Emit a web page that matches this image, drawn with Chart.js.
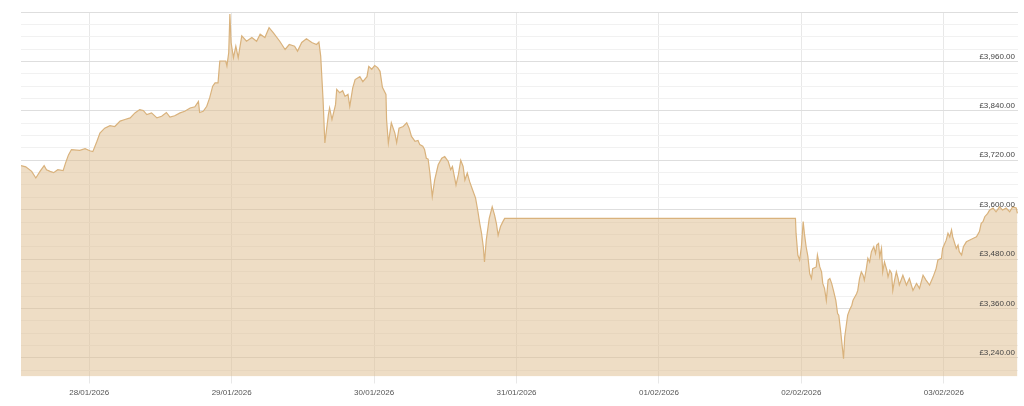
<!DOCTYPE html>
<html>
<head>
<meta charset="utf-8">
<script src="https://cdn.jsdelivr.net/npm/chart.js@4.4.1/dist/chart.umd.min.js"></script>
<style>
  body { margin: 0; background: #fff; }
  #wrap { width: 1024px; height: 406px; }
</style>
</head>
<body>
<div id="wrap"><canvas id="priceChart"></canvas></div>
<script>
// Hours since 28/01/2026 00:00, and price in GBP
const hours = [
  -11.5, -10.7, -9.7, -9.0, -8.3, -7.6, -7.2, -6.6, -6.0, -5.3, -4.4, -4.0, -3.5, -3.0, -1.6, -0.7,
  0.1, 0.6, 1.3, 1.8, 2.6, 3.5, 4.3, 5.2, 6.0, 6.9, 7.7, 8.5, 9.1, 9.7, 10.5, 11.4, 12.2, 13.0, 13.6,
  14.4, 15.3, 16.1, 17.0, 17.8, 18.4, 18.6, 19.2, 19.8, 20.3, 20.8, 21.2, 21.7, 22.0, 23.0, 23.2, 23.5,
  23.7, 23.9, 24.3, 24.7, 25.1, 25.7, 26.5, 27.4, 28.2, 28.8, 29.6, 30.3, 31.0, 32.1, 33.0, 33.7, 34.6,
  35.1, 35.8, 36.6, 37.5, 38.3, 38.7, 39.0, 39.4, 39.7, 40.3, 40.5, 40.9, 41.5, 41.7, 42.2, 42.7, 43.1,
  43.6, 43.9, 44.4, 44.8, 45.6, 46.1, 46.8, 47.1, 47.6, 48.1, 48.6, 49.0, 49.4, 50.0, 50.1, 50.4,
  50.9, 51.5, 51.8, 52.2, 52.9, 53.5, 53.9, 54.3, 54.9, 55.4, 55.7, 56.2, 56.5, 56.8, 57.1, 57.4, 57.8,
  58.2, 58.8, 59.4, 59.9, 60.5, 60.9, 61.2, 61.8, 62.2, 62.6, 63.0, 63.3, 63.7, 64.1, 64.6, 65.1, 65.5,
  65.8, 66.1, 66.4, 66.6, 66.9, 67.4, 67.9, 68.3, 68.6, 68.9, 69.3, 69.7, 70.0,
  119.0, 119.1, 119.4, 119.7, 120.0, 120.3, 120.5, 120.8, 121.1, 121.4, 121.7, 121.9, 122.5, 122.7,
  123.1, 123.4, 123.6, 123.9, 124.2, 124.5, 124.8, 125.1, 125.4, 125.8, 126.1, 126.3, 126.6, 126.9,
  127.1, 127.3, 127.6, 127.8, 128.1, 128.5, 128.7, 129.0, 129.3, 129.5, 129.8, 130.1, 130.4, 130.6,
  130.9, 131.2, 131.5, 131.8, 132.2, 132.5, 132.7, 133.0, 133.2, 133.5, 133.7, 134.0, 134.4, 134.6,
  134.9, 135.2, 135.4, 135.7, 136.0, 136.3, 136.5, 137.1, 137.7, 138.2, 138.8, 139.4, 139.9, 140.5,
  141.0, 141.6, 142.2, 142.7, 143.0, 143.6, 143.8, 144.4, 144.7, 145.0, 145.3, 145.5, 146.1, 146.4,
  146.6, 147.0, 147.3, 147.8, 148.3, 148.9, 149.5, 150.0, 150.3, 150.6, 150.9, 151.4, 151.7, 152.3,
  152.8, 153.4, 153.9, 154.5, 155.1, 155.6, 156.2, 156.4
];

const prices = [
  3707, 3704, 3693, 3677, 3693, 3707, 3697, 3693, 3690, 3697, 3695, 3713, 3733, 3746, 3744, 3748,
  3743, 3741, 3766, 3786, 3798, 3804, 3802, 3815, 3819, 3823, 3835, 3843, 3841, 3831, 3835, 3823, 3827, 3836, 3825,
  3828, 3835, 3839, 3847, 3850, 3863, 3836, 3839, 3851, 3872, 3900, 3908, 3908, 3961, 3961, 3949, 3981,
  4075, 4006, 3969, 3997, 3969, 4022, 4009, 4018, 4009, 4026, 4018, 4042, 4030, 4009, 3989, 4001, 3997,
  3985, 4006, 4015, 4006, 4001, 4007, 3973, 3867, 3762, 3831, 3847, 3819, 3855, 3892, 3884, 3889, 3875,
  3880, 3851, 3896, 3916, 3923, 3911, 3923, 3948, 3941, 3950, 3945, 3936, 3897, 3880, 3819, 3762,
  3811, 3786, 3763, 3798, 3802, 3811, 3798, 3778, 3766, 3768, 3758, 3754, 3746, 3725, 3723, 3689, 3632,
  3672, 3709, 3725, 3729, 3717, 3697, 3705, 3660, 3685, 3720, 3705, 3672, 3689, 3668, 3648, 3628, 3595,
  3567, 3543, 3510, 3473, 3526, 3579, 3607, 3587, 3567, 3538, 3559, 3571, 3579,
  3579, 3543, 3490, 3478, 3510, 3571, 3543, 3510, 3486, 3445, 3433, 3457, 3461, 3490,
  3461, 3449, 3421, 3409, 3380, 3429, 3433, 3421, 3404, 3380, 3348, 3344, 3307, 3266,
  3238, 3291, 3323, 3344, 3356, 3368, 3380, 3388, 3396, 3404, 3433, 3449, 3441, 3429,
  3453, 3482, 3473, 3498, 3510, 3494, 3514, 3518, 3486, 3506, 3449, 3473, 3453, 3437,
  3453, 3445, 3404, 3429, 3449, 3433, 3417, 3441, 3417, 3433, 3404, 3421, 3409, 3441,
  3429, 3417, 3437, 3457, 3478, 3482, 3506, 3526, 3543, 3534, 3551, 3534, 3506, 3514,
  3498, 3490, 3510, 3522, 3526, 3530, 3534, 3547, 3567, 3571, 3583, 3591, 3599, 3604,
  3595, 3607, 3599, 3604, 3595, 3607, 3604, 3591
];

const dayTicks = [0, 24, 48, 72, 96, 120, 144];
const dayLabels = ['28/01/2026', '29/01/2026', '30/01/2026', '31/01/2026', '01/02/2026', '02/02/2026', '03/02/2026'];
const priceTicks = [3240, 3360, 3480, 3600, 3720, 3840, 3960];

const yMin = 3195;
const yMax = 4080;

function formatGBP(v) {
  const thousands = Math.floor(v / 1000);
  const rest = String(v % 1000).padStart(3, '0');
  return '£' + thousands + ',' + rest + '.00';
}

const points = hours.map((h, i) => ({ x: h, y: prices[i] }));

new Chart(document.getElementById('priceChart'), {
  type: 'line',
  data: {
    datasets: [{
      data: points,
      yAxisID: 'y',
      borderColor: '#d9b27c',
      borderWidth: 1.2,
      backgroundColor: 'rgba(222, 188, 140, 0.5)',
      fill: 'start',
      pointRadius: 0,
      tension: 0
    }]
  },
  options: {
    responsive: true,
    maintainAspectRatio: false,
    animation: false,
    layout: { padding: { left: 21, right: 6, top: 12, bottom: 0 } },
    plugins: {
      legend: { display: false },
      tooltip: { enabled: false }
    },
    scales: {
      x: {
        type: 'linear',
        min: -11.5,
        max: 156.5,
        afterBuildTicks: axis => { axis.ticks = dayTicks.map(v => ({ value: v })); },
        afterFit: axis => { axis.height = 29.5; },
        border: { display: false },
        grid: { color: '#e8e8e8', tickLength: 7 },
        ticks: {
          color: '#555',
          font: { family: 'Liberation Sans', size: 8 },
          padding: 4,
          maxRotation: 0,
          callback: v => dayLabels[dayTicks.indexOf(v)]
        }
      },
      // grid only, drawn under the area
      y: {
        position: 'right',
        min: yMin,
        max: yMax,
        afterFit: axis => { axis.width = 0; },
        border: { display: false },
        grid: {
          drawTicks: false,
          color: ctx => (ctx.tick && ctx.tick.value % 120 === 0) ? '#dedede' : '#f1f1f1'
        },
        ticks: { stepSize: 30, includeBounds: false, display: false }
      },
      // price labels, drawn over the area
      y2: {
        position: 'right',
        min: yMin,
        max: yMax,
        afterFit: axis => { axis.width = 0; },
        afterBuildTicks: axis => { axis.ticks = priceTicks.map(v => ({ value: v })); },
        border: { display: false },
        grid: { display: false },
        ticks: {
          z: 1,
          mirror: true,
          padding: -3,
          labelOffset: -5,
          color: '#444',
          font: { family: 'Liberation Sans', size: 8 },
          autoSkip: false,
          callback: v => formatGBP(v)
        }
      }
    }
  }
});
</script>
</body>
</html>
